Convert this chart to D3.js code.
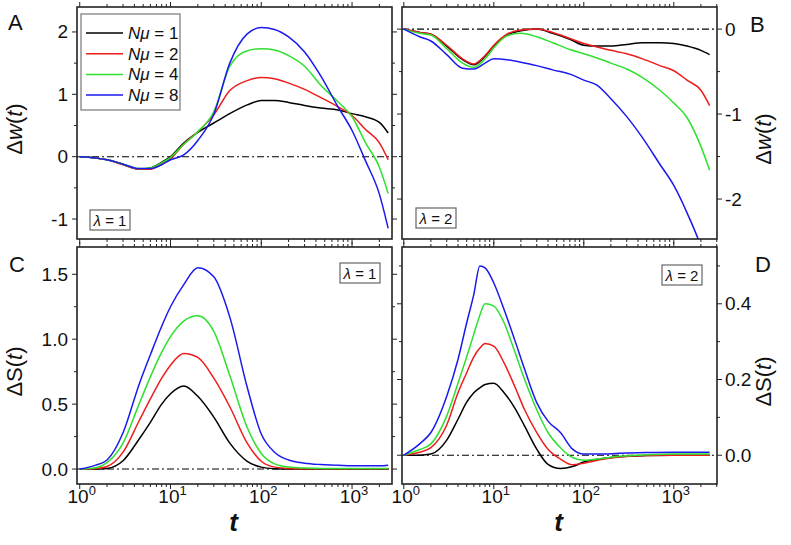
<!DOCTYPE html>
<html><head><meta charset="utf-8">
<script src="https://cdn.jsdelivr.net/npm/d3@7"></script>
<style>
body{margin:0;background:#fff;}
text{font-family:Arial,"Liberation Sans",sans-serif;fill:#111;}
</style></head>
<body><svg id="chart" width="791" height="545"></svg>
<script>
// ---------- DATA ----------
const seriesNames = ["Nμ = 1", "Nμ = 2", "Nμ = 4", "Nμ = 8"];
const seriesN = [1, 2, 4, 8];
const seriesColors = ["#000000", "#ee1c1c", "#2ee02e", "#1a1aee"];

// Panels A, B, C share this time grid
const tGrid = [1, 1.5, 2, 3, 4.5, 6, 8, 10, 14, 20, 30, 45, 70, 100, 140, 200, 300, 450, 700, 1000, 1400, 2000, 2500];
// Panel D time grid
const tGridD = [1, 1.5, 2, 3, 4, 5, 6, 7, 8, 10, 13, 17, 22, 30, 40, 55, 75, 100, 150, 250, 500, 1000, 2500];

// Panel A: Δw(t), λ = 1
const dwA_N1 = [0, -0.02, -0.05, -0.12, -0.2, -0.18, -0.09, 0.0, 0.22, 0.39, 0.54, 0.69, 0.83, 0.9, 0.9, 0.87, 0.82, 0.78, 0.75, 0.69, 0.64, 0.55, 0.38];
const dwA_N2 = [0, -0.02, -0.05, -0.13, -0.2, -0.2, -0.12, -0.03, 0.2, 0.4, 0.67, 1.06, 1.22, 1.27, 1.25, 1.18, 1.08, 0.95, 0.8, 0.66, 0.44, 0.22, -0.05];
const dwA_N4 = [0, -0.02, -0.05, -0.12, -0.19, -0.18, -0.1, -0.01, 0.2, 0.4, 0.72, 1.45, 1.7, 1.73, 1.71, 1.62, 1.45, 1.15, 0.88, 0.64, 0.23, -0.17, -0.59];
const dwA_N8 = [0, -0.02, -0.05, -0.12, -0.19, -0.19, -0.13, -0.05, 0.03, 0.26, 0.68, 1.5, 1.97, 2.07, 2.04, 1.92, 1.68, 1.3, 0.8, 0.42, -0.06, -0.6, -1.15];

// Panel B: Δw(t), λ = 2
const dwB_N1 = [0, -0.04, -0.06, -0.2, -0.36, -0.42, -0.32, -0.2, -0.07, -0.02, 0.0, -0.05, -0.12, -0.19, -0.2, -0.2, -0.18, -0.16, -0.16, -0.17, -0.2, -0.25, -0.3];
const dwB_N2 = [0, -0.04, -0.06, -0.19, -0.35, -0.41, -0.31, -0.19, -0.06, -0.01, 0.0, -0.04, -0.11, -0.17, -0.21, -0.25, -0.29, -0.35, -0.43, -0.49, -0.6, -0.72, -0.9];
const dwB_N4 = [0, -0.05, -0.07, -0.23, -0.4, -0.45, -0.35, -0.22, -0.08, -0.05, -0.09, -0.16, -0.24, -0.29, -0.34, -0.4, -0.47, -0.57, -0.72, -0.87, -1.04, -1.38, -1.66];
const dwB_N8 = [0, -0.09, -0.14, -0.3, -0.46, -0.47, -0.4, -0.35, -0.36, -0.39, -0.43, -0.48, -0.53, -0.6, -0.66, -0.82, -1.03, -1.28, -1.59, -1.84, -2.16, -2.56, -2.9];

// Panel C: ΔS(t), λ = 1
const dsC_N1 = [0, 0, 0.005, 0.064, 0.23, 0.36, 0.5, 0.58, 0.64, 0.56, 0.4, 0.2, 0.06, 0.015, 0.003, 0, 0, 0, 0, 0, 0, 0, 0];
const dsC_N2 = [0, 0.005, 0.02, 0.13, 0.37, 0.54, 0.7, 0.8, 0.89, 0.86, 0.7, 0.48, 0.2, 0.06, 0.015, 0.005, 0.003, 0.002, 0.002, 0.002, 0.002, 0.002, 0.002];
const dsC_N4 = [0, 0.01, 0.05, 0.2, 0.5, 0.71, 0.9, 1.02, 1.14, 1.18, 1.06, 0.72, 0.32, 0.12, 0.04, 0.015, 0.008, 0.005, 0.005, 0.005, 0.005, 0.005, 0.005];
const dsC_N8 = [0, 0.03, 0.07, 0.28, 0.65, 0.88, 1.1, 1.25, 1.42, 1.55, 1.48, 1.17, 0.63, 0.27, 0.13, 0.07, 0.045, 0.035, 0.03, 0.025, 0.025, 0.025, 0.03];

// Panel D: ΔS(t), λ = 2
const dsD_N1 = [0, 0, 0.003, 0.04, 0.095, 0.14, 0.165, 0.178, 0.187, 0.19, 0.165, 0.126, 0.077, 0.016, -0.024, -0.035, -0.03, -0.018, -0.01, -0.004, -0.001, 0, 0];
const dsD_N2 = [0, 0.008, 0.02, 0.08, 0.165, 0.218, 0.26, 0.283, 0.295, 0.288, 0.244, 0.183, 0.12, 0.06, 0.016, -0.01, -0.025, -0.021, -0.012, -0.005, -0.001, 0, 0];
const dsD_N4 = [0, 0.015, 0.03, 0.104, 0.19, 0.26, 0.32, 0.37, 0.4, 0.394, 0.35, 0.275, 0.2, 0.12, 0.06, 0.02, -0.006, -0.013, -0.009, -0.003, 0.001, 0.003, 0.003];
const dsD_N8 = [0, 0.03, 0.06, 0.156, 0.253, 0.35, 0.425, 0.5, 0.495, 0.455, 0.385, 0.306, 0.227, 0.139, 0.09, 0.06, 0.016, 0.003, 0.003, 0.005, 0.007, 0.008, 0.008];

// tick labels
const xTickValues = [1, 10, 100, 1000];
const xTickExp = ["0", "1", "2", "3"];
const yTicksA = [-1, 0, 1, 2];
const yTicksB = [-2, -1, 0];
const yTicksC = [0, 0.5, 1.0, 1.5];
const yTicksD = [0, 0.2, 0.4];
const panelLetters = ["A", "B", "C", "D"];
const lambdaLabels = ["1", "2", "1", "2"];

// ---------- LAYOUT ----------
const svg = d3.select("#chart");
const panels = [
  {id:0, x0:77, x1:392, y0:7, y1:239, t:tGrid, ys:[dwA_N1,dwA_N2,dwA_N4,dwA_N8], yDom:[-1.32,2.4], yT:yTicksA, yMinorStep:0.5, fmt:d3.format("d"), side:"left", xLabels:false,
   yTitle:["Δ","w"], lambdaPos:[90,210], letterPos:[8,30]},
  {id:1, x0:402, x1:717, y0:7, y1:239, t:tGrid, ys:[dwB_N1,dwB_N2,dwB_N4,dwB_N8], yDom:[-2.47,0.26], yT:yTicksB, yMinorStep:0.5, fmt:d3.format("d"), side:"right", xLabels:false,
   yTitle:["Δ","w"], lambdaPos:[416,208], letterPos:[750,32]},
  {id:2, x0:77, x1:392, y0:247, y1:484, t:tGrid, ys:[dsC_N1,dsC_N2,dsC_N4,dsC_N8], yDom:[-0.115,1.71], yT:yTicksC, yMinorStep:0.25, fmt:d3.format(".1f"), side:"left", xLabels:true,
   yTitle:["Δ","S"], lambdaPos:[340,263], letterPos:[9,272]},
  {id:3, x0:402, x1:717, y0:247, y1:484, t:tGridD, ys:[dsD_N1,dsD_N2,dsD_N4,dsD_N8], yDom:[-0.076,0.55], yT:yTicksD, yMinorStep:0.1, fmt:d3.format(".1f"), side:"right", xLabels:true,
   yTitle:["Δ","S"], lambdaPos:[662,265], letterPos:[755,272]}
];

const majorLen = 5, minorLen = 3;
const tickColor = "#222";

panels.forEach(p => {
  const g = svg.append("g");
  const lo = p.side === "left" ? -0.03 : -0.02;
  const hi = p.side === "left" ? 3.44 : 3.48;
  const x = d3.scaleLog().domain([Math.pow(10, lo), Math.pow(10, hi)]).range([p.x0, p.x1]);
  const y = d3.scaleLinear().domain(p.yDom).range([p.y1, p.y0]);

  const clipId = "clip" + p.id;
  svg.append("clipPath").attr("id", clipId).append("rect")
    .attr("x", p.x0).attr("y", p.y0).attr("width", p.x1 - p.x0).attr("height", p.y1 - p.y0);

  g.append("line").attr("x1", p.x0).attr("x2", p.x1).attr("y1", y(0)).attr("y2", y(0))
    .attr("stroke", "#000").attr("stroke-width", 1.1).attr("stroke-dasharray", "7,3,2,3");

  const line = d3.line().x((d, i) => x(p.t[i])).y(d => y(d)).curve(d3.curveMonotoneX);
  p.ys.forEach((vals, k) => {
    g.append("path").datum(vals).attr("d", line).attr("fill", "none")
      .attr("stroke", seriesColors[k]).attr("stroke-width", 1.5)
      .attr("clip-path", `url(#${clipId})`);
  });

  g.append("rect").attr("x", p.x0).attr("y", p.y0).attr("width", p.x1 - p.x0).attr("height", p.y1 - p.y0)
    .attr("fill", "none").attr("stroke", "#222").attr("stroke-width", 1.6);

  const xMinor = [];
  for (let e = 0; e <= 3; e++) for (let m = 2; m <= 9; m++) {
    const v = m * Math.pow(10, e);
    if (v <= x.domain()[1]) xMinor.push(v);
  }
  const tk = g.append("g").attr("stroke", tickColor).attr("stroke-width", 1);
  xTickValues.forEach(v => {
    tk.append("line").attr("x1", x(v)).attr("x2", x(v)).attr("y1", p.y1).attr("y2", p.y1 + majorLen);
    tk.append("line").attr("x1", x(v)).attr("x2", x(v)).attr("y1", p.y0).attr("y2", p.y0 - majorLen);
  });
  xMinor.forEach(v => {
    tk.append("line").attr("x1", x(v)).attr("x2", x(v)).attr("y1", p.y1).attr("y2", p.y1 + minorLen);
    tk.append("line").attr("x1", x(v)).attr("x2", x(v)).attr("y1", p.y0).attr("y2", p.y0 - minorLen);
  });
  const yMinor = [];
  const [d0, d1] = p.yDom;
  for (let v = Math.ceil(d0 / p.yMinorStep) * p.yMinorStep; v <= d1 + 1e-9; v += p.yMinorStep) {
    const vv = +v.toFixed(4);
    if (!p.yT.some(t => Math.abs(t - vv) < 1e-6)) yMinor.push(vv);
  }
  p.yT.forEach(v => {
    tk.append("line").attr("x1", p.x0).attr("x2", p.x0 - majorLen).attr("y1", y(v)).attr("y2", y(v));
    tk.append("line").attr("x1", p.x1).attr("x2", p.x1 + majorLen).attr("y1", y(v)).attr("y2", y(v));
  });
  yMinor.forEach(v => {
    tk.append("line").attr("x1", p.x0).attr("x2", p.x0 - minorLen).attr("y1", y(v)).attr("y2", y(v));
    tk.append("line").attr("x1", p.x1).attr("x2", p.x1 + minorLen).attr("y1", y(v)).attr("y2", y(v));
  });

  p.yT.forEach(v => {
    const lbl = v < 0 ? "-" + p.fmt(-v) : p.fmt(v);
    if (p.side === "left") {
      g.append("text").attr("x", p.x0 - 9).attr("y", y(v) + 6.5).attr("text-anchor", "end")
        .attr("font-size", 19).text(lbl);
    } else {
      g.append("text").attr("x", p.x1 + 8).attr("y", y(v) + 6.5).attr("text-anchor", "start")
        .attr("font-size", 19).text(lbl);
    }
  });

  if (p.xLabels) {
    xTickValues.forEach((v, i) => {
      const t = g.append("text").attr("x", x(v) + 2).attr("y", p.y1 + 19).attr("text-anchor", "middle")
        .attr("font-size", 19);
      t.append("tspan").text("10");
      t.append("tspan").attr("font-size", 13).attr("dy", -8).text(xTickExp[i]);
    });
    g.append("text").attr("x", (p.x0 + p.x1) / 2 - 1).attr("y", 531).attr("text-anchor", "middle")
      .attr("font-size", 26).attr("font-style", "italic").attr("font-weight", "bold").text("t");
  }

  const ty = p.side === "left" ? 22 : 771;
  const tcy = (p.y0 + p.y1) / 2 + (p.side === "left" ? 6 : 16);
  const tt = g.append("text").attr("transform", `translate(${ty},${tcy}) rotate(-90)`)
    .attr("text-anchor", "middle").attr("font-size", 22);
  tt.append("tspan").text(p.yTitle[0]);
  tt.append("tspan").attr("font-style", p.yTitle[1] === "w" ? "italic" : "normal").text(p.yTitle[1]);
  tt.append("tspan").text("(");
  tt.append("tspan").attr("font-style", "italic").text("t");
  tt.append("tspan").text(")");

  g.append("text").attr("x", p.letterPos[0]).attr("y", p.letterPos[1]).attr("font-size", 22).text(panelLetters[p.id]);

  const lb = g.append("g").attr("transform", `translate(${p.lambdaPos[0]},${p.lambdaPos[1]})`);
  lb.append("rect").attr("x", 0).attr("y", 0).attr("width", 40).attr("height", 20)
    .attr("fill", "#fff").attr("stroke", "#666").attr("stroke-width", 1.2);
  const lt = lb.append("text").attr("x", 20).attr("y", 15.5).attr("text-anchor", "middle").attr("font-size", 15);
  lt.append("tspan").attr("font-style", "italic").text("λ");
  lt.append("tspan").text(" = " + lambdaLabels[p.id]);
});

// ---------- LEGEND (panel A) ----------
const leg = svg.append("g").attr("transform", "translate(81,14)");
leg.append("rect").attr("x", 0).attr("y", 0).attr("width", 99).attr("height", 96)
  .attr("fill", "#fff").attr("stroke", "#777").attr("stroke-width", 1.2);
seriesN.forEach((n, i) => {
  const yy = 19 + i * 20.7;
  leg.append("line").attr("x1", 5).attr("x2", 42).attr("y1", yy).attr("y2", yy)
    .attr("stroke", seriesColors[i]).attr("stroke-width", 1.5);
  const t = leg.append("text").attr("x", 47).attr("y", yy + 6).attr("font-size", 17);
  t.append("tspan").attr("font-style", "italic").text("Nμ");
  t.append("tspan").text(" = " + n);
});
</script></body></html>
